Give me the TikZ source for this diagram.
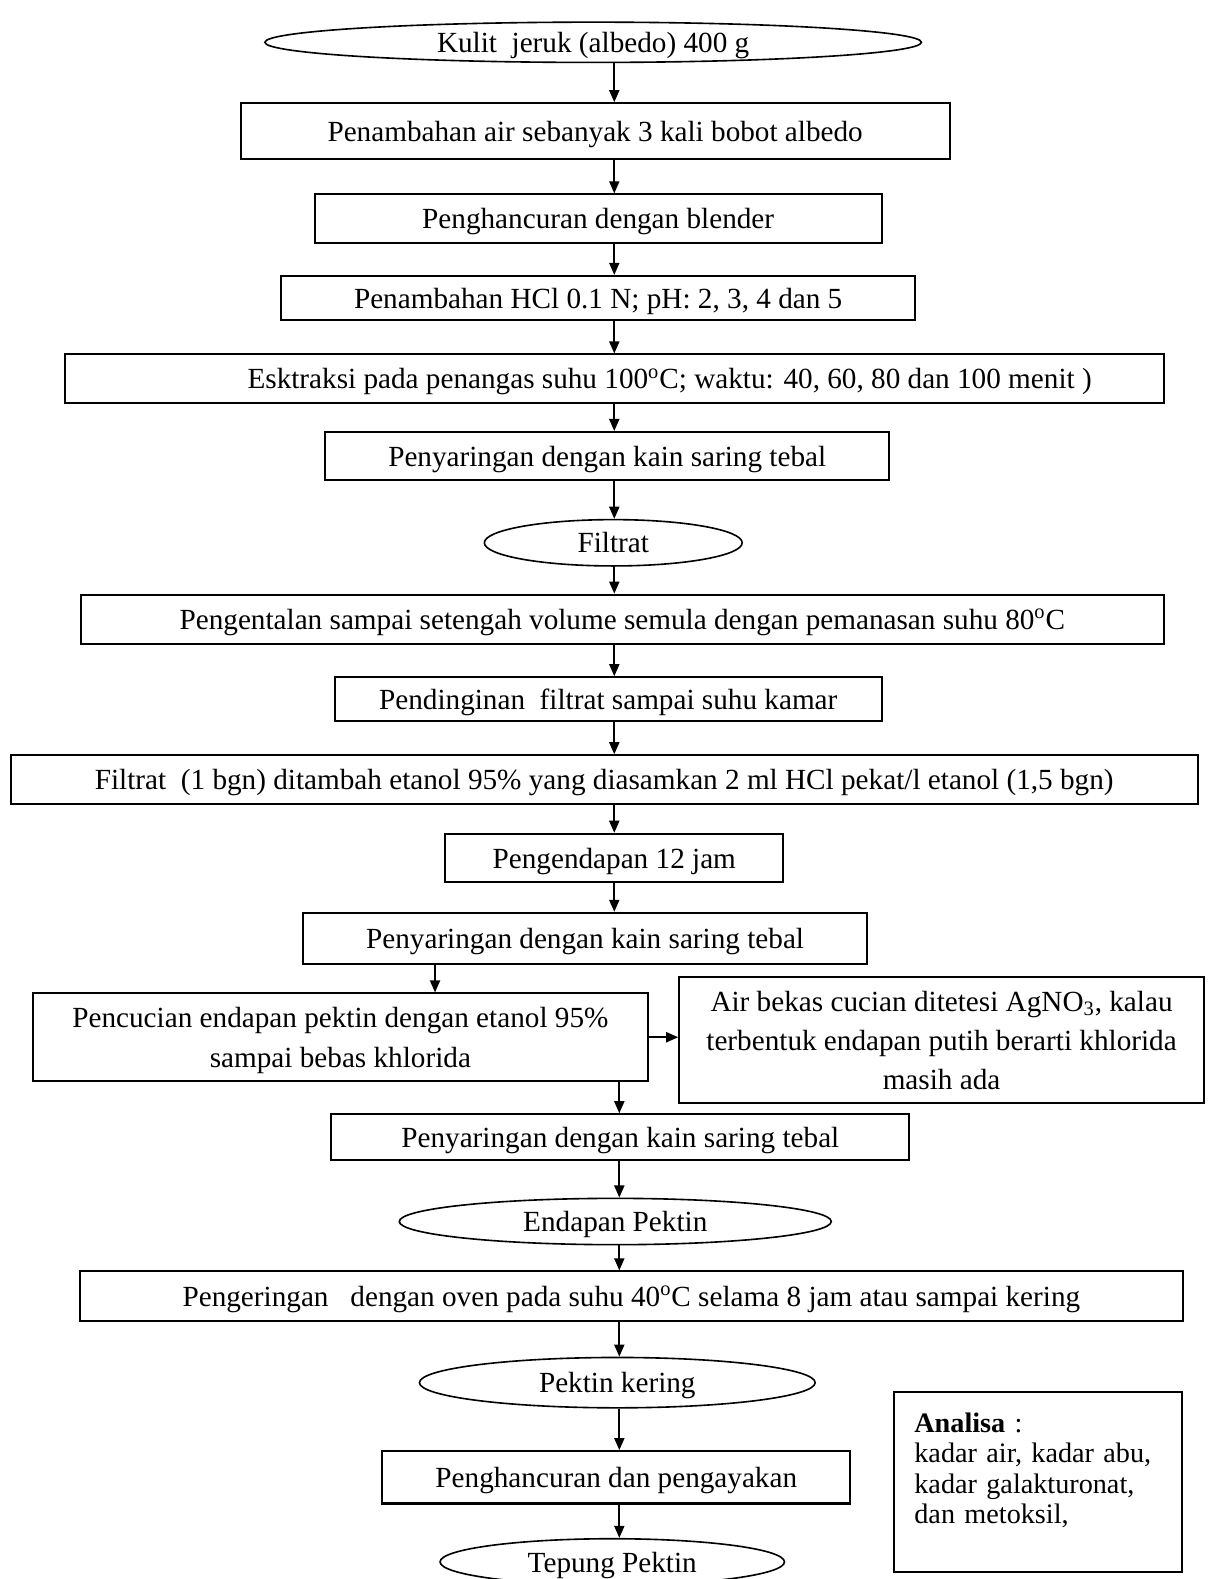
\documentclass[tikz,border=0pt]{standalone}
\usepackage{fontspec}
\setmainfont{Liberation Serif}
\usepackage{tikz}
\usetikzlibrary{shapes.geometric, arrows.meta, positioning, calc}
\tikzset{
  basebox/.style={rectangle,draw=black,line width=1pt,fill=white,align=center,inner sep=0pt,text depth=0pt,font=\fontsize{14.5}{19.5}\selectfont},
  termnode/.style={ellipse,draw=black,line width=0.8pt,fill=white,align=center,inner sep=0pt,text depth=0pt,font=\fontsize{14.5}{19.5}\selectfont},
  notebox/.style={basebox,align=left,inner xsep=10pt,text depth=59pt,font=\fontsize{14}{15}\selectfont},
  arr/.style={-{Triangle[length=6pt,width=5pt]},line width=0.9pt,color=black}
}

\begin{document}
\begin{tikzpicture}[x=0.5pt,y=-0.5pt]
  \useasboundingbox (0,0) rectangle (1199,1568);
  \coordinate (spA) at (610,0);
  \coordinate (spB) at (615,0);
  \coordinate (spC) at (432,0);

  \node[termnode,minimum width=326pt,minimum height=20pt] (kulit) at (589,42) {Kulit\ \ jeruk (albedo) 400 g};
  \node[basebox,minimum width=352pt,minimum height=27.5pt] (tambair) at (591,130) {Penambahan air sebanyak 3 kali bobot albedo};
  \node[basebox,minimum width=281.5pt,minimum height=24pt] (blender) at (594,217) {Penghancuran dengan blender};
  \node[basebox,minimum width=314.5pt,minimum height=22pt] (hcl) at (594,296) {Penambahan HCl 0.1 N; pH: 2, 3, 4 dan 5};
  \node[basebox,minimum width=545.5pt,minimum height=24pt] (ekstr) at (610,376) {\hspace*{55pt}Esktraksi pada penangas suhu 100\textsuperscript{o}C; waktu: 40, 60, 80 dan 100 menit )};
  \node[basebox,minimum width=280pt,minimum height=24pt] (saring1) at (603,453) {Penyaringan dengan kain saring tebal};
  \node[termnode,minimum width=128pt,minimum height=23pt] (filtrat) at (609,539) {Filtrat};
  \node[basebox,minimum width=538pt,minimum height=24.5pt] (kental) at (618,615) {Pengentalan sampai setengah volume semula dengan pemanasan suhu 80\textsuperscript{o}C};
  \node[basebox,minimum width=271.5pt,minimum height=21.5pt] (dingin) at (604,694) {Pendinginan\ \ filtrat sampai suhu kamar};
  \node[basebox,minimum width=589.5pt,minimum height=24pt] (etanol) at (600,774) {Filtrat\ \ (1 bgn) ditambah etanol 95\% yang diasamkan 2 ml HCl pekat/l etanol (1,5 bgn)};
  \node[basebox,minimum width=168pt,minimum height=24pt] (endap) at (610,852) {Pengendapan 12 jam};
  \node[basebox,minimum width=280pt,minimum height=25.5pt] (saring2) at (581,932) {Penyaringan dengan kain saring tebal};
  \node[basebox,minimum width=305pt,minimum height=43.5pt] (cuci) at (338,1030) {Pencucian endapan pektin dengan etanol 95\%\\sampai bebas khlorida};
  \node[basebox,minimum width=260.5pt,minimum height=62.5pt] (uji) at (935,1033) {Air bekas cucian ditetesi AgNO\textsubscript{3}, kalau\\terbentuk endapan putih berarti khlorida\\masih ada};
  \node[basebox,minimum width=287pt,minimum height=22.5pt] (saring3) at (616,1129) {Penyaringan dengan kain saring tebal};
  \node[termnode,minimum width=214.5pt,minimum height=23pt] (pektin) at (611,1213) {Endapan Pektin};
  \node[basebox,minimum width=547.5pt,minimum height=24.5pt] (kering) at (627,1287) {Pengeringan\ \ \ dengan oven pada suhu 40\textsuperscript{o}C selama 8 jam atau sampai kering};
  \node[termnode,minimum width=196.5pt,minimum height=25pt] (pkering) at (613,1373) {Pektin kering};
  \node[basebox,minimum width=232.5pt,minimum height=26pt] (ayak) at (612,1467) {Penghancuran dan pengayakan};
  \node[termnode,minimum width=171pt,minimum height=23pt] (tepung) at (608,1551) {Tepung Pektin};
  \node[notebox,text width=123pt,minimum height=89.5pt] (analisa) at (1031,1472) {\textbf{Analisa} :\\kadar air, kadar abu,\\kadar galakturonat,\\dan metoksil,};

  \draw[arr] (kulit.south -| spA) -- (tambair.north -| spA);
  \draw[arr] (tambair.south -| spA) -- (blender.north -| spA);
  \draw[arr] (blender.south -| spA) -- (hcl.north -| spA);
  \draw[arr] (hcl.south -| spA) -- (ekstr.north -| spA);
  \draw[arr] (ekstr.south -| spA) -- (saring1.north -| spA);
  \draw[arr] (saring1.south -| spA) -- (filtrat.north -| spA);
  \draw[arr] (filtrat.south -| spA) -- (kental.north -| spA);
  \draw[arr] (kental.south -| spA) -- (dingin.north -| spA);
  \draw[arr] (dingin.south -| spA) -- (etanol.north -| spA);
  \draw[arr] (etanol.south -| spA) -- (endap.north -| spA);
  \draw[arr] (endap.south -| spA) -- (saring2.north -| spA);
  \draw[arr] (saring2.south -| spC) -- (cuci.north -| spC);
  \draw[arr] (cuci.east) -- (cuci.east -| uji.west);
  \draw[arr] (cuci.south -| spB) -- (saring3.north -| spB);
  \draw[arr] (saring3.south -| spB) -- (pektin.north -| spB);
  \draw[arr] (pektin.south -| spB) -- (kering.north -| spB);
  \draw[arr] (kering.south -| spB) -- (pkering.north -| spB);
  \draw[arr] (pkering.south -| spB) -- (ayak.north -| spB);
  \draw[arr] (ayak.south -| spB) -- (tepung.north -| spB);
\end{tikzpicture}
\end{document}
